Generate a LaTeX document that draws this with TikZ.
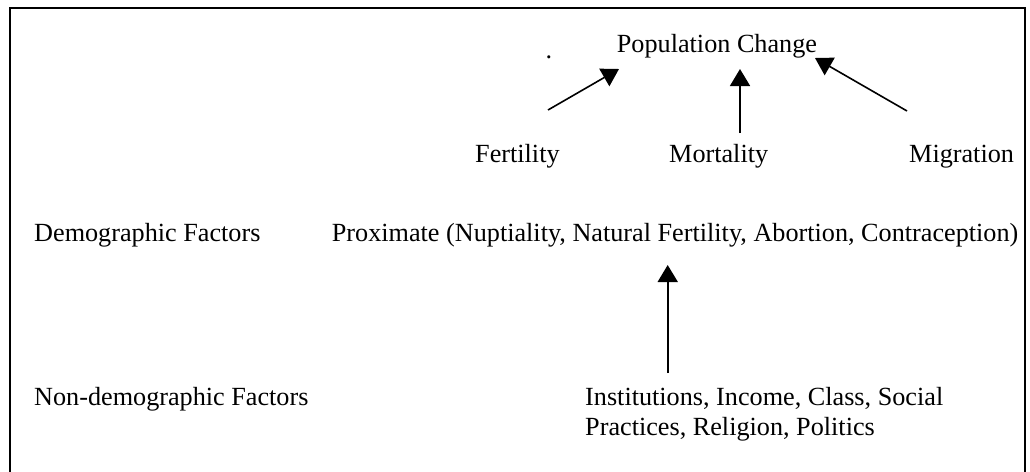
\documentclass[tikz,border=0pt]{standalone}
\usepackage{fontspec}
\setmainfont{Liberation Serif}
\usetikzlibrary{arrows.meta}
\begin{document}
\begin{tikzpicture}[x=1pt,y=-1pt,
  lbl/.style={inner sep=0pt, anchor=base west, font=\fontsize{26.2}{29.5}\selectfont},
  arr/.style={line width=1.6pt, -{Triangle[length=17pt,width=20pt]}},
  frame/.style={line width=1.8pt, draw=black}]
\useasboundingbox (0,0) rectangle (1030,471);
\draw[frame] (10,480) -- (10,8) -- (1025,8) -- (1025,480);
% texts
\node[lbl] (pop) at (616.7,52.3) {Population Change};
\node[lbl] (dot) at (545.5,58) {.};
\node[lbl] (fert) at (475,162.7) {Fertility};
\node[lbl] (mort) at (669,162.7) {Mortality};
\node[lbl] (migr) at (909,162.7) {Migration};
\node[lbl] (demo) at (34,241.7) {Demographic Factors};
\node[lbl] (prox) at (331.7,241.7) {Proximate (Nuptiality, Natural Fertility, Abortion, Contraception)};
\node[lbl] (nondemo) at (34,405.7) {Non-demographic Factors};
\node[lbl, align=left] (inst) at (585,435.2) {Institutions, Income, Class, Social\\Practices, Religion, Politics};
% connector end points
\coordinate (f1) at (548,110);  \coordinate (f2) at (619,69);
\coordinate (m1) at (740,133);  \coordinate (m2) at (740,69);
\coordinate (g1) at (907,111);  \coordinate (g2) at (815,58);
\coordinate (i1) at (667.7,373); \coordinate (i2) at (667.7,265);
\draw[arr] (f1) -- (f2);
\draw[arr] (m1) -- (m2);
\draw[arr] (g1) -- (g2);
\draw[arr] (i1) -- (i2);
\end{tikzpicture}
\end{document}
